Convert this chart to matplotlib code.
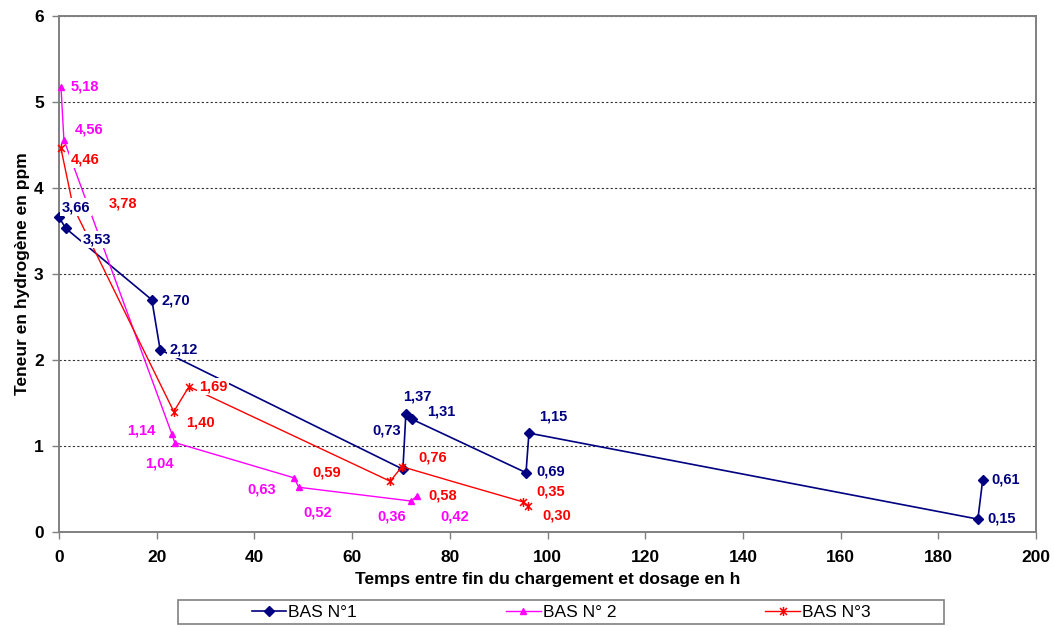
import matplotlib
matplotlib.use("Agg")
import matplotlib.pyplot as plt
from matplotlib.path import Path
from matplotlib.patches import Rectangle
from matplotlib.lines import Line2D

# --- data -------------------------------------------------------------
bas1_t = [0.0, 1.4, 19.0, 20.7, 70.4, 71.0, 72.3, 95.6, 96.2, 188.1, 189.1]
bas1_h = [3.66, 3.53, 2.70, 2.12, 0.73, 1.37, 1.31, 0.69, 1.15, 0.15, 0.61]

bas2_t = [0.4, 1.0, 23.1, 23.7, 48.1, 49.1, 72.1, 73.3]
bas2_h = [5.18, 4.56, 1.14, 1.04, 0.63, 0.52, 0.36, 0.42]

bas3_t = [0.4, 2.9, 23.5, 26.6, 67.8, 70.2, 81.0, 95.0, 96.0]
bas3_h = [4.46, 3.78, 1.40, 1.69, 0.59, 0.76, 0.58, 0.35, 0.30]

series_names = ["BAS N°1", "BAS N° 2", "BAS N°3"]
x_ticks = list(range(0, 201, 20))
y_ticks = list(range(0, 7))

# --- label placement (pixel offsets of the text's left edge; y down) ---
bas1_off = [(3, -10), (17, 11), (10, 1), (9, 0), (-31, -39), (-3, -18),
            (15, -8), (10, -1), (10, -17), (10, -1), (9, 0)]
bas2_off = [(10, 0), (11, -10), (-45, -3), (-30, 21), (-47, 12), (5, 25),
            (-34, 15), (23, 21)]
bas3_off = [(10, 11), (36, -3), (12, 11), (10, 0), (-78, -9), (16, -9),
            (-26, 13), (13, -10), (14, 9)]

NAVY = "#000080"
MAGENTA = "#FF00FF"
RED = "#FF0000"

# asterisk-like marker: an X crossed by a vertical stroke
star = Path([(-1, -1), (1, 1), (-1, 1), (1, -1), (0, -1.3), (0, 1.3)],
            [Path.MOVETO, Path.LINETO, Path.MOVETO, Path.LINETO,
             Path.MOVETO, Path.LINETO])

plt.rcParams["font.family"] = ["Liberation Sans", "DejaVu Sans"]

fig = plt.figure(figsize=(10.54, 6.28), dpi=100)
ax = fig.add_axes([59 / 1054, 1 - 532 / 628, (1036 - 59) / 1054, (532 - 16) / 628])

ax.plot(bas1_t, bas1_h, color=NAVY, lw=1.2, marker="D", ms=4.8,
        mec=NAVY, mfc=NAVY, zorder=3, clip_on=False)
ax.plot(bas2_t, bas2_h, color=MAGENTA, lw=1.0, marker="^", ms=4.5,
        mec=MAGENTA, mfc=MAGENTA, zorder=3, clip_on=False)
# the 0,58 reading sits on the straight segment and carries no symbol
bas3_marks = [i for i in range(len(bas3_t)) if i != 6]
ax.plot(bas3_t, bas3_h, color=RED, lw=1.0, marker=star, ms=6.5,
        mec=RED, mew=1.1, markevery=bas3_marks, zorder=3, clip_on=False)


def fmt(v):
    return f"{v:.2f}".replace(".", ",")


def label_points(ts, hs, offs, color):
    for t, h, (dx, dy) in zip(ts, hs, offs):
        ax.annotate(fmt(h), xy=(t, h), xytext=(dx, -dy),
                    textcoords="offset pixels", ha="left", va="center",
                    fontsize=10.5, fontweight="bold", color=color,
                    bbox=dict(boxstyle="square,pad=0.12", fc="white",
                              ec="none"),
                    zorder=5, annotation_clip=False)


label_points(bas1_t, bas1_h, bas1_off, NAVY)
label_points(bas2_t, bas2_h, bas2_off, MAGENTA)
label_points(bas3_t, bas3_h, bas3_off, RED)

ax.set_xlim(0, 200)
ax.set_ylim(0, 6)
ax.set_xticks(x_ticks)
ax.set_yticks(y_ticks)
ax.tick_params(axis="both", direction="out", length=5, width=1,
               color="#808080", labelsize=12.5, pad=6)
ax.tick_params(axis="x", pad=8)
for lbl in ax.get_xticklabels() + ax.get_yticklabels():
    lbl.set_fontweight("bold")

ax.yaxis.grid(True, color="#333333", linestyle=(0, (2, 2)), lw=0.8)
ax.set_axisbelow(True)
for side in ["left", "bottom", "top", "right"]:
    ax.spines[side].set_color("#808080")
    ax.spines[side].set_linewidth(1.4)

ax.set_xlabel("Temps entre fin du chargement et dosage en h",
              fontsize=12.5, fontweight="bold", labelpad=5)
ax.set_ylabel("Teneur en hydrogène en ppm",
              fontsize=12.5, fontweight="bold", labelpad=3)

# legend below the chart in its own framed strip
handles = [
    Line2D([], [], color=NAVY, lw=1.2, marker="D", ms=4.8, mfc=NAVY, mec=NAVY),
    Line2D([], [], color=MAGENTA, lw=1.0, marker="^", ms=4.5, mfc=MAGENTA,
           mec=MAGENTA),
    Line2D([], [], color=RED, lw=1.0, marker=star, ms=6.5, mec=RED, mew=1.1),
]
fig.legend(handles, series_names, loc="center", ncol=3,
           bbox_to_anchor=(561 / 1054, 1 - 612 / 628), frameon=False,
           fontsize=12.5, handlelength=2.0, handletextpad=0.1,
           columnspacing=8.6)
fig.patches.append(Rectangle((178 / 1054, 1 - 624 / 628), (944 - 178) / 1054,
                             24 / 628, transform=fig.transFigure,
                             fill=False, ec="#808080", lw=1.2))

fig.savefig("out.png", dpi=100, facecolor="white")
